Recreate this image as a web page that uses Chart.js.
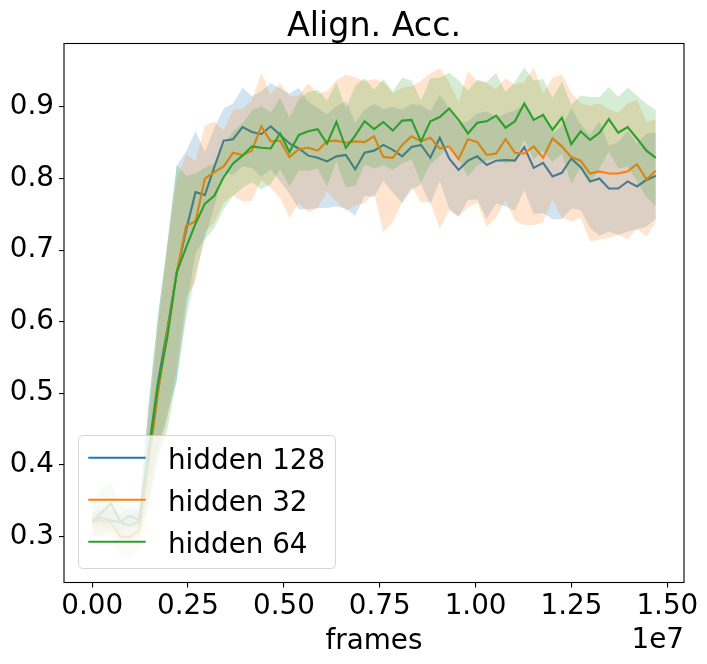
<!DOCTYPE html>
<html><head><meta charset="utf-8">
<script src="https://cdn.jsdelivr.net/npm/chart.js@4.4.0/dist/chart.umd.min.js"></script>
<style>html,body{margin:0;padding:0;background:#fff;}#wrap{width:707px;height:664px;}</style>
</head><body><div id="wrap"><canvas id="c" width="707" height="664"></canvas></div>
<script>
const titleText = 'Align. Acc.';
const xAxisLabel = 'frames';
const xOffsetText = '1e7';
const seriesNames = ['hidden 128', 'hidden 32', 'hidden 64'];
const seriesColors = ['#1f77b4', '#ff7f0e', '#2ca02c'];
const bandColors = ['rgba(31,119,180,0.2)', 'rgba(255,127,14,0.2)', 'rgba(44,160,44,0.2)'];

const frames = [0,245000,490000,735000,980000,1225000,1470000,1715000,1960000,2205000,
2450000,2695000,2940000,3185000,3430000,3675000,3920000,4165000,4410000,4655000,
4900000,5145000,5390000,5635000,5880000,6125000,6370000,6615000,6860000,7105000,
7350000,7595000,7840000,8085000,8330000,8575000,8820000,9065000,9310000,9555000,
9800000,10045000,10290000,10535000,10780000,11025000,11270000,11515000,11760000,12005000,
12250000,12495000,12740000,12985000,13230000,13475000,13720000,13965000,14210000,14455000,
14700000];

const h128Mean = [0.322,0.326,0.322,0.320,0.329,0.323,0.420,0.515,0.590,0.668,
0.728,0.781,0.777,0.816,0.853,0.855,0.872,0.865,0.862,0.873,
0.861,0.849,0.842,0.832,0.829,0.824,0.831,0.833,0.813,0.836,
0.839,0.847,0.840,0.831,0.844,0.847,0.829,0.857,0.828,0.812,
0.825,0.831,0.819,0.825,0.826,0.825,0.844,0.815,0.822,0.803,
0.808,0.828,0.816,0.796,0.800,0.786,0.786,0.796,0.789,0.798,
0.804];
const h128Std = [0.010,0.012,0.015,0.012,0.014,0.012,0.060,0.090,0.120,0.150,
0.110,0.085,0.060,0.055,0.045,0.050,0.055,0.050,0.060,0.060,
0.065,0.070,0.085,0.075,0.070,0.065,0.070,0.075,0.065,0.060,
0.065,0.050,0.060,0.065,0.060,0.055,0.065,0.060,0.070,0.065,
0.055,0.060,0.075,0.060,0.065,0.070,0.060,0.065,0.070,0.060,
0.065,0.070,0.060,0.065,0.080,0.060,0.065,0.070,0.060,0.065,
0.060];

const h32Mean = [0.320,0.322,0.319,0.300,0.299,0.309,0.400,0.500,0.585,0.668,
0.734,0.740,0.800,0.809,0.817,0.836,0.833,0.839,0.873,0.852,
0.853,0.830,0.841,0.843,0.839,0.852,0.853,0.850,0.852,0.851,
0.859,0.830,0.829,0.847,0.859,0.852,0.857,0.842,0.845,0.827,
0.855,0.851,0.833,0.835,0.855,0.836,0.835,0.845,0.829,0.856,
0.845,0.830,0.825,0.807,0.810,0.807,0.807,0.810,0.820,0.799,
0.811];
const h32Std = [0.015,0.018,0.020,0.028,0.030,0.025,0.060,0.090,0.120,0.130,
0.100,0.085,0.075,0.070,0.050,0.060,0.065,0.070,0.075,0.065,
0.080,0.085,0.075,0.090,0.080,0.070,0.085,0.095,0.090,0.085,
0.080,0.105,0.090,0.080,0.070,0.085,0.090,0.112,0.090,0.080,
0.095,0.085,0.100,0.090,0.085,0.095,0.100,0.110,0.090,0.085,
0.100,0.090,0.080,0.095,0.095,0.090,0.085,0.095,0.090,0.080,
0.072];

const h64Mean = [0.321,0.333,0.346,0.320,0.315,0.321,0.415,0.510,0.578,0.669,
0.704,0.737,0.765,0.776,0.802,0.821,0.832,0.845,0.843,0.842,
0.863,0.837,0.861,0.866,0.869,0.849,0.879,0.843,0.860,0.880,
0.869,0.879,0.867,0.881,0.882,0.852,0.880,0.886,0.898,0.882,
0.863,0.878,0.880,0.888,0.871,0.880,0.905,0.882,0.889,0.868,
0.885,0.848,0.866,0.854,0.864,0.883,0.864,0.872,0.856,0.839,
0.829];
const h64Std = [0.020,0.035,0.030,0.025,0.020,0.020,0.070,0.100,0.130,0.150,
0.100,0.070,0.050,0.045,0.045,0.045,0.045,0.050,0.058,0.050,
0.050,0.048,0.050,0.055,0.055,0.060,0.055,0.055,0.070,0.060,
0.055,0.060,0.055,0.060,0.055,0.057,0.060,0.055,0.050,0.055,
0.060,0.060,0.055,0.060,0.050,0.055,0.050,0.055,0.050,0.045,
0.050,0.055,0.050,0.060,0.050,0.045,0.050,0.055,0.060,0.065,
0.067];

const xTickValues = [0, 2500000, 5000000, 7500000, 10000000, 12500000, 15000000];
const xTickLabels = ['0.00', '0.25', '0.50', '0.75', '1.00', '1.25', '1.50'];
const yTickValues = [0.3, 0.4, 0.5, 0.6, 0.7, 0.8, 0.9];
const yTickLabels = ['0.3', '0.4', '0.5', '0.6', '0.7', '0.8', '0.9'];

const means = [h128Mean, h32Mean, h64Mean];
const stds = [h128Std, h32Std, h64Std];

const FONT = '"DejaVu Sans", "Liberation Sans", sans-serif';
const datasets = [];
means.forEach((m, s) => {
  const sd = stds[s];
  const base = 6 - 2 * s;
  datasets.push({
    label: seriesNames[s] + ' upper',
    data: frames.map((f, i) => ({x: f, y: m[i] + sd[i]})),
    fill: '+1', backgroundColor: bandColors[s], borderWidth: 0, borderColor: 'rgba(0,0,0,0)',
    pointRadius: 0, tension: 0, order: base
  });
  datasets.push({
    label: seriesNames[s] + ' lower',
    data: frames.map((f, i) => ({x: f, y: m[i] - sd[i]})),
    fill: false, borderWidth: 0, borderColor: 'rgba(0,0,0,0)',
    pointRadius: 0, tension: 0, order: base
  });
  datasets.push({
    label: seriesNames[s],
    data: frames.map((f, i) => ({x: f, y: m[i]})),
    fill: false, borderColor: seriesColors[s], borderWidth: 2.1,
    pointRadius: 0, tension: 0, order: base - 1
  });
});

const deco = {
  id: 'deco',
  afterDraw(chart) {
    const ctx = chart.ctx, a = chart.chartArea;
    ctx.save();
    ctx.strokeStyle = '#000'; ctx.lineWidth = 1.1;
    ctx.strokeRect(a.left, a.top, a.right - a.left, a.bottom - a.top);
    ctx.fillStyle = '#000';
    ctx.textBaseline = 'alphabetic';
    ctx.textAlign = 'center';
    ctx.font = '33.3px ' + FONT;
    ctx.fillText(titleText, (a.left + a.right) / 2, 36);
    ctx.font = '27.8px ' + FONT;
    ctx.fillText(xAxisLabel, (a.left + a.right) / 2, 649);
    ctx.textAlign = 'right';
    ctx.fillText(xOffsetText, a.right, 648);
    // legend
    const lx = 78.5, ly = 435.5, lw = 257, lh = 133, r = 5;
    ctx.beginPath();
    ctx.moveTo(lx + r, ly);
    ctx.lineTo(lx + lw - r, ly); ctx.quadraticCurveTo(lx + lw, ly, lx + lw, ly + r);
    ctx.lineTo(lx + lw, ly + lh - r); ctx.quadraticCurveTo(lx + lw, ly + lh, lx + lw - r, ly + lh);
    ctx.lineTo(lx + r, ly + lh); ctx.quadraticCurveTo(lx, ly + lh, lx, ly + lh - r);
    ctx.lineTo(lx, ly + r); ctx.quadraticCurveTo(lx, ly, lx + r, ly);
    ctx.closePath();
    ctx.fillStyle = 'rgba(255,255,255,0.8)';
    ctx.fill();
    ctx.strokeStyle = 'rgba(204,204,204,0.8)'; ctx.lineWidth = 1;
    ctx.stroke();
    const rows = [457.7, 499.7, 541.7];
    ctx.textAlign = 'left';
    seriesNames.forEach((n, s) => {
      ctx.strokeStyle = seriesColors[s]; ctx.lineWidth = 2.1;
      ctx.beginPath(); ctx.moveTo(88.3, rows[s]); ctx.lineTo(145.7, rows[s]); ctx.stroke();
      ctx.fillStyle = '#000';
      ctx.fillText(n, 168, rows[s] + 11.6);
    });
    ctx.restore();
  }
};

new Chart(document.getElementById('c'), {
  type: 'line',
  data: {datasets},
  plugins: [deco],
  options: {
    responsive: false, animation: false, devicePixelRatio: 1, events: [],
    layout: {padding: {top: 43.5, right: 23, left: 0, bottom: 0}},
    plugins: {legend: {display: false}, title: {display: false}, tooltip: {enabled: false},
      filler: {propagate: false}},
    scales: {
      x: {
        type: 'linear', min: -735000, max: 15435000,
        afterFit(scale) { scale.height = 81.5; },
        afterBuildTicks(scale) { scale.ticks = xTickValues.map(v => ({value: v})); },
        ticks: {autoSkip: false, maxRotation: 0, padding: 3, color: '#000',
          font: {family: FONT, size: 27.8},
          callback: (v, i) => xTickLabels[i]},
        grid: {display: true, drawOnChartArea: false, drawTicks: true, tickLength: 5, color: '#000', lineWidth: 1.1},
        border: {display: false}
      },
      y: {
        type: 'linear', min: 0.2356, max: 0.9887,
        afterFit(scale) { scale.width = 64; },
        afterBuildTicks(scale) { scale.ticks = yTickValues.map(v => ({value: v})); },
        ticks: {autoSkip: false, padding: 5, color: '#000',
          font: {family: FONT, size: 27.8},
          callback: (v, i) => yTickLabels[i]},
        grid: {display: true, drawOnChartArea: false, drawTicks: true, tickLength: 5, color: '#000', lineWidth: 1.1},
        border: {display: false}
      }
    }
  }
});
</script></body></html>
